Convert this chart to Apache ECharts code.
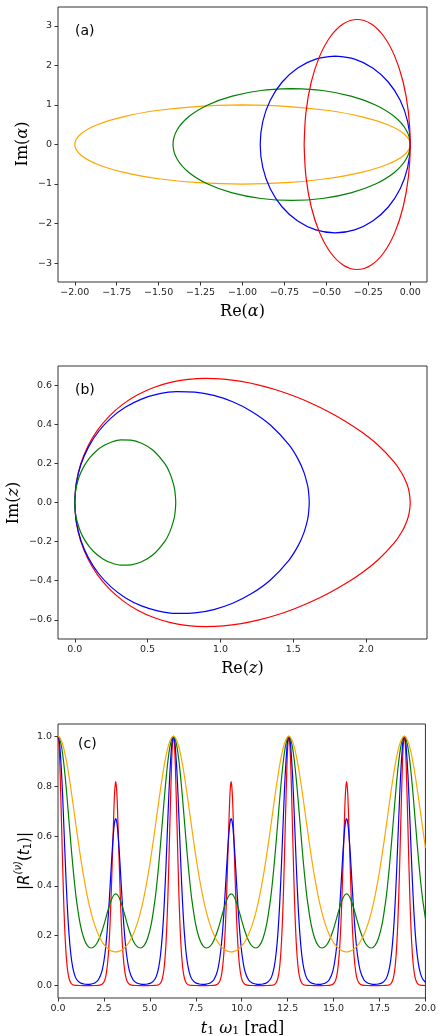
<!DOCTYPE html>
<html><head><meta charset="utf-8">
<script src="https://cdn.jsdelivr.net/npm/echarts@6/dist/echarts.min.js"></script>
<style>html,body{margin:0;padding:0;background:#fff}#chart{width:439px;height:1036px}</style>
</head><body><div id="chart"></div>
<script>
// ---------- Panel (a): alpha trajectories [Re, Im] ----------
const alphaOrange = [[-1,1],[-1.2588,0.9659],[-1.5,0.8660],[-1.7071,0.7071],[-1.8660,0.5],[-1.9659,0.2588],[-2,0],[-1.9659,-0.2588],[-1.8660,-0.5],[-1.7071,-0.7071],[-1.5,-0.8660],[-1.2588,-0.9659],[-1,-1],[-0.7412,-0.9659],[-0.5,-0.8660],[-0.2929,-0.7071],[-0.1340,-0.5],[-0.0341,-0.2588],[0,0],[-0.0341,0.2588],[-0.1340,0.5],[-0.2929,0.7071],[-0.5,0.8660],[-0.7412,0.9659],[-1,1]];
const alphaGreen = [[-0.7071,1.4142],[-0.8901,1.3660],[-1.0607,1.2247],[-1.2071,1.0],[-1.3195,0.7071],[-1.3901,0.3660],[-1.4142,0],[-1.3901,-0.3660],[-1.3195,-0.7071],[-1.2071,-1.0],[-1.0607,-1.2247],[-0.8901,-1.3660],[-0.7071,-1.4142],[-0.5241,-1.3660],[-0.3536,-1.2247],[-0.2071,-1.0],[-0.0948,-0.7071],[-0.0241,-0.3660],[0,0],[-0.0241,0.3660],[-0.0948,0.7071],[-0.2071,1.0],[-0.3536,1.2247],[-0.5241,1.3660],[-0.7071,1.4142]];
const alphaBlue = [[-0.4472,2.2361],[-0.5629,2.1599],[-0.6708,1.9365],[-0.7634,1.5811],[-0.8345,1.1180],[-0.8792,0.5787],[-0.8944,0],[-0.8792,-0.5787],[-0.8345,-1.1180],[-0.7634,-1.5811],[-0.6708,-1.9365],[-0.5629,-2.1599],[-0.4472,-2.2361],[-0.3315,-2.1599],[-0.2236,-1.9365],[-0.1310,-1.5811],[-0.0599,-1.1180],[-0.0153,-0.5787],[0,0],[-0.0153,0.5787],[-0.0599,1.1180],[-0.1310,1.5811],[-0.2236,1.9365],[-0.3315,2.1599],[-0.4472,2.2361]];
const alphaRed = [[-0.6325,0],[-0.6216,-0.8184],[-0.5901,-1.5811],[-0.5398,-2.2361],[-0.4743,-2.7386],[-0.3981,-3.0545],[-0.3162,-3.1623],[-0.2344,-3.0545],[-0.1581,-2.7386],[-0.0926,-2.2361],[-0.0424,-1.5811],[-0.0108,-0.8184],[0,0],[-0.0108,0.8184],[-0.0424,1.5811],[-0.0926,2.2361],[-0.1581,2.7386],[-0.2344,3.0545],[-0.3162,3.1623],[-0.3981,3.0545],[-0.4743,2.7386],[-0.5398,2.2361],[-0.5901,1.5811],[-0.6216,0.8184],[-0.6325,0]];

// ---------- Panel (b): z trajectories [Re, Im] ----------
const zGreen = [[0,0],[0.0042,0.0498],[0.0166,0.0986],[0.0372,0.1453],[0.0658,0.1889],[0.1021,0.2282],[0.1457,0.2623],[0.1962,0.2898],[0.2533,0.3096],[0.3164,0.3200],[0.3851,0.3189],[0.4588,0.3033],[0.5371,0.2675],[0.6193,0.1974],[0.6532,0.1490],[0.6790,0.0903],[0.6877,0.0565],[0.6931,0],[0.6877,-0.0565],[0.6790,-0.0903],[0.6532,-0.1490],[0.6193,-0.1974],[0.5371,-0.2675],[0.4588,-0.3033],[0.3851,-0.3189],[0.3164,-0.3200],[0.2533,-0.3096],[0.1962,-0.2898],[0.1457,-0.2623],[0.1021,-0.2282],[0.0658,-0.1889],[0.0372,-0.1453],[0.0166,-0.0986],[0.0042,-0.0498],[0,0]];
const zBlue = [[0,0],[0.0108,0.0994],[0.0428,0.1954],[0.0947,0.2847],[0.1646,0.3645],[0.2503,0.4328],[0.3491,0.4880],[0.4583,0.5291],[0.5755,0.5557],[0.6984,0.5677],[0.8251,0.5650],[0.9539,0.5477],[1.0837,0.5153],[1.2136,0.4660],[1.3428,0.3962],[1.4709,0.2942],[1.5344,0.2194],[1.5724,0.1554],[1.5976,0.0884],[1.6039,0.0606],[1.6094,0],[1.6039,-0.0606],[1.5976,-0.0884],[1.5724,-0.1554],[1.5344,-0.2194],[1.4709,-0.2942],[1.3428,-0.3962],[1.2136,-0.4660],[1.0837,-0.5153],[0.9539,-0.5477],[0.8251,-0.5650],[0.6984,-0.5677],[0.5755,-0.5557],[0.4583,-0.5291],[0.3491,-0.4880],[0.2503,-0.4328],[0.1646,-0.3645],[0.0947,-0.2847],[0.0428,-0.1954],[0.0108,-0.0994],[0,0]];
const zRed = [[0,0],[0.0102,0.0995],[0.0403,0.1959],[0.0892,0.2865],[0.1551,0.3687],[0.2357,0.4409],[0.3287,0.5019],[0.4316,0.5511],[0.5420,0.5885],[0.6577,0.6144],[0.7770,0.6295],[0.8983,0.6348],[1.0206,0.6312],[1.1429,0.6196],[1.2645,0.6008],[1.3852,0.5756],[1.5045,0.5446],[1.6223,0.5080],[1.7387,0.4658],[1.8536,0.4175],[1.9670,0.3618],[2.0791,0.2954],[2.1900,0.2095],[2.2450,0.1497],[2.2779,0.0980],[2.2943,0.0567],[2.3026,0],[2.2943,-0.0567],[2.2779,-0.0980],[2.2450,-0.1497],[2.1900,-0.2095],[2.0791,-0.2954],[1.9670,-0.3618],[1.8536,-0.4175],[1.7387,-0.4658],[1.6223,-0.5080],[1.5045,-0.5446],[1.3852,-0.5756],[1.2645,-0.6008],[1.1429,-0.6196],[1.0206,-0.6312],[0.8983,-0.6348],[0.7770,-0.6295],[0.6577,-0.6144],[0.5420,-0.5885],[0.4316,-0.5511],[0.3287,-0.5019],[0.2357,-0.4409],[0.1551,-0.3687],[0.0892,-0.2865],[0.0403,-0.1959],[0.0102,-0.0995],[0,0]];

// ---------- Panel (c): |R(t1)| versus t1*omega1 ----------
const tValues = [0,0.05,0.1,0.2,0.3,0.4,0.5,0.6,0.7,0.8,0.9,1.0,1.2,1.4,1.6,1.8,2.0,2.2,2.4,2.5416,2.6416,2.7416,2.8416,2.9416,3.0416,3.0916,3.1416,
3.1916,3.2416,3.3416,3.4416,3.5416,3.6416,3.7416,3.8832,4.0832,4.2832,4.4832,4.6832,4.8832,5.0832,5.2832,5.3832,5.4832,5.5832,5.6832,5.7832,5.8832,5.9832,6.0832,6.1832,6.2332,6.2832,
6.3332,6.3832,6.4832,6.5832,6.6832,6.7832,6.8832,6.9832,7.0832,7.1832,7.2832,7.4832,7.6832,7.8832,8.0832,8.2832,8.4832,8.6832,8.8248,8.9248,9.0248,9.1248,9.2248,9.3248,9.3748,9.4248,
9.4748,9.5248,9.6248,9.7248,9.8248,9.9248,10.0248,10.1664,10.3664,10.5664,10.7664,10.9664,11.1664,11.3664,11.5664,11.6664,11.7664,11.8664,11.9664,12.0664,12.1664,12.2664,12.3664,12.4664,12.5164,12.5664,
12.6164,12.6664,12.7664,12.8664,12.9664,13.0664,13.1664,13.2664,13.3664,13.4664,13.5664,13.7664,13.9664,14.1664,14.3664,14.5664,14.7664,14.9664,15.1080,15.2080,15.3080,15.4080,15.5080,15.6080,15.6580,15.7080,
15.7580,15.8080,15.9080,16.0080,16.1080,16.2080,16.3080,16.4496,16.6496,16.8496,17.0496,17.2496,17.4496,17.6496,17.8496,17.9496,18.0496,18.1496,18.2496,18.3496,18.4496,18.5496,18.6496,18.7496,18.7996,18.8496,
18.8996,18.9496,19.0496,19.1496,19.2496,19.3496,19.4496,19.5496,19.6496,19.7496,19.8496,20.0];

const rOrange = [1,0.9988,0.9950,0.9803,0.9563,0.9241,0.8848,0.8397,0.7904,0.7384,0.6850,0.6315,0.5285,0.4360,0.3573,0.2931,0.2426,0.2042,0.1760,0.1612,0.1530,0.1465,0.1415,0.1381,0.1360,0.1355,0.1353,
0.1355,0.1360,0.1381,0.1415,0.1465,0.1530,0.1612,0.1760,0.2042,0.2426,0.2931,0.3573,0.4360,0.5285,0.6315,0.6850,0.7384,0.7904,0.8397,0.8848,0.9241,0.9563,0.9803,0.9950,0.9988,1,
0.9988,0.9950,0.9803,0.9563,0.9241,0.8848,0.8397,0.7904,0.7384,0.6850,0.6315,0.5285,0.4360,0.3573,0.2931,0.2426,0.2042,0.1760,0.1612,0.1530,0.1465,0.1415,0.1381,0.1360,0.1355,0.1353,
0.1355,0.1360,0.1381,0.1415,0.1465,0.1530,0.1612,0.1760,0.2042,0.2426,0.2931,0.3573,0.4360,0.5285,0.6315,0.6850,0.7384,0.7904,0.8397,0.8848,0.9241,0.9563,0.9803,0.9950,0.9988,1,
0.9988,0.9950,0.9803,0.9563,0.9241,0.8848,0.8397,0.7904,0.7384,0.6850,0.6315,0.5285,0.4360,0.3573,0.2931,0.2426,0.2042,0.1760,0.1612,0.1530,0.1465,0.1415,0.1381,0.1360,0.1355,0.1353,
0.1355,0.1360,0.1381,0.1415,0.1465,0.1530,0.1612,0.1760,0.2042,0.2426,0.2931,0.3573,0.4360,0.5285,0.6315,0.6850,0.7384,0.7904,0.8397,0.8848,0.9241,0.9563,0.9803,0.9950,0.9988,1,
0.9988,0.9950,0.9803,0.9563,0.9241,0.8848,0.8397,0.7904,0.7384,0.6850,0.6315,0.5533];

const rGreen = [1,0.9972,0.9886,0.9551,0.9013,0.8305,0.7478,0.6588,0.5698,0.4859,0.4106,0.3460,0.2495,0.1909,0.1604,0.1507,0.1580,0.1812,0.2198,0.2546,0.2812,0.3076,0.3315,0.3509,0.3635,0.3668,0.3679,
0.3668,0.3635,0.3509,0.3315,0.3076,0.2812,0.2546,0.2198,0.1812,0.1580,0.1507,0.1604,0.1909,0.2495,0.3460,0.4106,0.4859,0.5698,0.6588,0.7478,0.8305,0.9013,0.9551,0.9886,0.9972,1,
0.9972,0.9886,0.9551,0.9013,0.8305,0.7478,0.6588,0.5698,0.4859,0.4106,0.3460,0.2495,0.1909,0.1604,0.1507,0.1580,0.1812,0.2198,0.2546,0.2812,0.3076,0.3315,0.3509,0.3635,0.3668,0.3679,
0.3668,0.3635,0.3509,0.3315,0.3076,0.2812,0.2546,0.2198,0.1812,0.1580,0.1507,0.1604,0.1909,0.2495,0.3460,0.4106,0.4859,0.5698,0.6588,0.7478,0.8305,0.9013,0.9551,0.9886,0.9972,1,
0.9972,0.9886,0.9551,0.9013,0.8305,0.7478,0.6588,0.5698,0.4859,0.4106,0.3460,0.2495,0.1909,0.1604,0.1507,0.1580,0.1812,0.2198,0.2546,0.2812,0.3076,0.3315,0.3509,0.3635,0.3668,0.3679,
0.3668,0.3635,0.3509,0.3315,0.3076,0.2812,0.2546,0.2198,0.1812,0.1580,0.1507,0.1604,0.1909,0.2495,0.3460,0.4106,0.4859,0.5698,0.6588,0.7478,0.8305,0.9013,0.9551,0.9886,0.9972,1,
0.9972,0.9886,0.9551,0.9013,0.8305,0.7478,0.6588,0.5698,0.4859,0.4106,0.3460,0.2695];

const rBlue = [1,0.9901,0.9606,0.8452,0.6747,0.4898,0.3279,0.2063,0.1245,0.0736,0.0436,0.0264,0.0111,0.0062,0.0050,0.0060,0.0103,0.0231,0.0602,0.1197,0.1890,0.2854,0.4051,0.5311,0.6314,0.6603,0.6703,
0.6603,0.6314,0.5311,0.4051,0.2854,0.1890,0.1197,0.0602,0.0231,0.0103,0.0060,0.0050,0.0062,0.0111,0.0264,0.0436,0.0736,0.1245,0.2063,0.3279,0.4898,0.6747,0.8452,0.9606,0.9901,1,
0.9901,0.9606,0.8452,0.6747,0.4898,0.3279,0.2063,0.1245,0.0736,0.0436,0.0264,0.0111,0.0062,0.0050,0.0060,0.0103,0.0231,0.0602,0.1197,0.1890,0.2854,0.4051,0.5311,0.6314,0.6603,0.6703,
0.6603,0.6314,0.5311,0.4051,0.2854,0.1890,0.1197,0.0602,0.0231,0.0103,0.0060,0.0050,0.0062,0.0111,0.0264,0.0436,0.0736,0.1245,0.2063,0.3279,0.4898,0.6747,0.8452,0.9606,0.9901,1,
0.9901,0.9606,0.8452,0.6747,0.4898,0.3279,0.2063,0.1245,0.0736,0.0436,0.0264,0.0111,0.0062,0.0050,0.0060,0.0103,0.0231,0.0602,0.1197,0.1890,0.2854,0.4051,0.5311,0.6314,0.6603,0.6703,
0.6603,0.6314,0.5311,0.4051,0.2854,0.1890,0.1197,0.0602,0.0231,0.0103,0.0060,0.0050,0.0062,0.0111,0.0264,0.0436,0.0736,0.1245,0.2063,0.3279,0.4898,0.6747,0.8452,0.9606,0.9901,1,
0.9901,0.9606,0.8452,0.6747,0.4898,0.3279,0.2063,0.1245,0.0736,0.0436,0.0264,0.0134];

const rRed = [1,0.9723,0.8920,0.6290,0.3604,0.1748,0.0743,0.0286,0.0103,0.0036,0.0013,0.0005,0.0001,0,0,0,0.0001,0.0007,0.0050,0.0209,0.0537,0.1258,0.2614,0.4696,0.7030,0.7872,0.8187,
0.7872,0.7030,0.4696,0.2614,0.1258,0.0537,0.0209,0.0050,0.0007,0.0001,0,0,0,0.0001,0.0005,0.0013,0.0036,0.0103,0.0286,0.0743,0.1748,0.3604,0.6290,0.8920,0.9723,1,
0.9723,0.8920,0.6290,0.3604,0.1748,0.0743,0.0286,0.0103,0.0036,0.0013,0.0005,0.0001,0,0,0,0.0001,0.0007,0.0050,0.0209,0.0537,0.1258,0.2614,0.4696,0.7030,0.7872,0.8187,
0.7872,0.7030,0.4696,0.2614,0.1258,0.0537,0.0209,0.0050,0.0007,0.0001,0,0,0,0.0001,0.0005,0.0013,0.0036,0.0103,0.0286,0.0743,0.1748,0.3604,0.6290,0.8920,0.9723,1,
0.9723,0.8920,0.6290,0.3604,0.1748,0.0743,0.0286,0.0103,0.0036,0.0013,0.0005,0.0001,0,0,0,0.0001,0.0007,0.0050,0.0209,0.0537,0.1258,0.2614,0.4696,0.7030,0.7872,0.8187,
0.7872,0.7030,0.4696,0.2614,0.1258,0.0537,0.0209,0.0050,0.0007,0.0001,0,0,0,0.0001,0.0005,0.0013,0.0036,0.0103,0.0286,0.0743,0.1748,0.3604,0.6290,0.8920,0.9723,1,
0.9723,0.8920,0.6290,0.3604,0.1748,0.0743,0.0286,0.0103,0.0036,0.0013,0.0005,0.0001];

// ---------- Tick values ----------
const aTicksX = [-2.0,-1.75,-1.5,-1.25,-1.0,-0.75,-0.5,-0.25,0.0];
const aTicksY = [-3,-2,-1,0,1,2,3];
const bTicksX = [0,0.5,1.0,1.5,2.0];
const bTicksY = [-0.6,-0.4,-0.2,0,0.2,0.4,0.6];
const cTicksX = [0,2.5,5,7.5,10,12.5,15,17.5,20];
const cTicksY = [0,0.2,0.4,0.6,0.8,1.0];

function fmt(v, d) {
  const s = Math.abs(v).toFixed(d);
  return (v < -1e-9 ? '\u2212' : '') + s;
}
function axis(idx, min, max, ticks, dec) {
  return {
    type: 'value', gridIndex: idx, min: min, max: max,
    axisLine: { show: false, onZero: false },
    splitLine: { show: false },
    axisTick: { show: true, length: 3.5, customValues: ticks, lineStyle: { color: '#333', width: 1 } },
    axisLabel: { customValues: ticks, formatter: v => fmt(v, dec), fontSize: 9.5, color: '#262626',
                 margin: 6, fontFamily: 'DejaVu Sans', showMinLabel: true, showMaxLabel: true }
  };
}
function line(data, color, idx) {
  return { type: 'line', xAxisIndex: idx, yAxisIndex: idx, data: data, showSymbol: false, symbol: 'none',
           smooth: 0.33, lineStyle: { color: color, width: 1.2 }, itemStyle: { color: color },
           silent: true, animation: false };
}
const zip = (ys) => tValues.map((t, i) => [t, ys[i]]);

const RED = '#ff0000', BLUE = '#0000ff', GREEN = '#008000', ORANGE = '#ffa500';
const gridStyle = { show: true, borderColor: '#333', borderWidth: 1, backgroundColor: 'transparent', containLabel: false };

const chart = echarts.init(document.getElementById('chart'), null, { renderer: 'canvas' });
chart.setOption({
  animation: false,
  backgroundColor: '#fff',
  grid: [
    Object.assign({ left: 58, top: 7, width: 369, height: 275 }, gridStyle),
    Object.assign({ left: 58, top: 366, width: 369, height: 273 }, gridStyle),
    Object.assign({ left: 58, top: 724, width: 369, height: 274 }, gridStyle)
  ],
  xAxis: [
    axis(0, -2.1, 0.1, aTicksX, 2),
    axis(1, -0.1151, 2.4177, bTicksX, 1),
    axis(2, 0, 20, cTicksX, 1)
  ],
  yAxis: [
    axis(0, -3.4785, 3.4785, aTicksY, 0),
    axis(1, -0.6983, 0.6983, bTicksY, 1),
    axis(2, -0.05, 1.05, cTicksY, 1)
  ],
  series: [
    line(alphaOrange, ORANGE, 0),
    line(alphaGreen, GREEN, 0),
    line(alphaBlue, BLUE, 0),
    line(alphaRed, RED, 0),
    line(zRed, RED, 1),
    line(zBlue, BLUE, 1),
    line(zGreen, GREEN, 1),
    line(zip(rRed), RED, 2),
    line(zip(rBlue), BLUE, 2),
    line(zip(rGreen), GREEN, 2),
    line(zip(rOrange), ORANGE, 2)
  ],
  graphic: [
    { type: 'text', x: 75, y: 31, style: { text: '(a)', font: '14px "DejaVu Sans"', fill: '#000', verticalAlign: 'middle' } },
    { type: 'text', x: 75, y: 390, style: { text: '(b)', font: '14px "DejaVu Sans"', fill: '#000', verticalAlign: 'middle' } },
    { type: 'text', x: 78, y: 744, style: { text: '(c)', font: '14px "DejaVu Sans"', fill: '#000', verticalAlign: 'middle' } },
    { type: 'text', x: 242.5, y: 312, style: { text: 'Re({i|α})', font: '16px "DejaVu Serif"', fill: '#000', align: 'center', verticalAlign: 'middle',
        rich: { i: { fontFamily: 'DejaVu Serif', fontSize: 16, fontStyle: 'italic' } } } },
    { type: 'text', x: 23, y: 144, rotation: Math.PI / 2, style: { text: 'Im({i|α})', font: '16px "DejaVu Serif"', fill: '#000', align: 'center', verticalAlign: 'middle',
        rich: { i: { fontFamily: 'DejaVu Serif', fontSize: 16, fontStyle: 'italic' } } } },
    { type: 'text', x: 242.5, y: 669, style: { text: 'Re({i|z})', font: '16px "DejaVu Serif"', fill: '#000', align: 'center', verticalAlign: 'middle',
        rich: { i: { fontFamily: 'DejaVu Serif', fontSize: 16, fontStyle: 'italic' } } } },
    { type: 'text', x: 13.5, y: 503, rotation: Math.PI / 2, style: { text: 'Im({i|z})', font: '16px "DejaVu Serif"', fill: '#000', align: 'center', verticalAlign: 'middle',
        rich: { i: { fontFamily: 'DejaVu Serif', fontSize: 16, fontStyle: 'italic' } } } },
    { type: 'text', x: 242.5, y: 1027, style: { text: '{i|t}{s|1}{n| }{i|ω}{s|1}{n| [rad]}', fill: '#000', align: 'center', verticalAlign: 'middle',
        rich: { i: { fontFamily: 'DejaVu Serif', fontSize: 16, fontStyle: 'italic', verticalAlign: 'bottom', lineHeight: 20 },
                n: { fontFamily: 'DejaVu Serif', fontSize: 16, verticalAlign: 'bottom', lineHeight: 20 },
                s: { fontFamily: 'DejaVu Serif', fontSize: 11, verticalAlign: 'bottom', lineHeight: 16 } } } },
    { type: 'text', x: 23, y: 861, rotation: Math.PI / 2, style: { text: '{n||}{i|R}{p|(ν)}{n|(}{i|t}{s|1}{n|)|}', fill: '#000', align: 'center', verticalAlign: 'middle',
        rich: { i: { fontFamily: 'DejaVu Sans', fontSize: 15, fontStyle: 'italic', verticalAlign: 'bottom', lineHeight: 20 },
                n: { fontFamily: 'DejaVu Sans', fontSize: 15, verticalAlign: 'bottom', lineHeight: 20 },
                p: { fontFamily: 'DejaVu Sans', fontSize: 10, fontStyle: 'italic', verticalAlign: 'top', lineHeight: 20 },
                s: { fontFamily: 'DejaVu Sans', fontSize: 10, verticalAlign: 'bottom', lineHeight: 15 } } } }
  ]
});
</script>
</body></html>
